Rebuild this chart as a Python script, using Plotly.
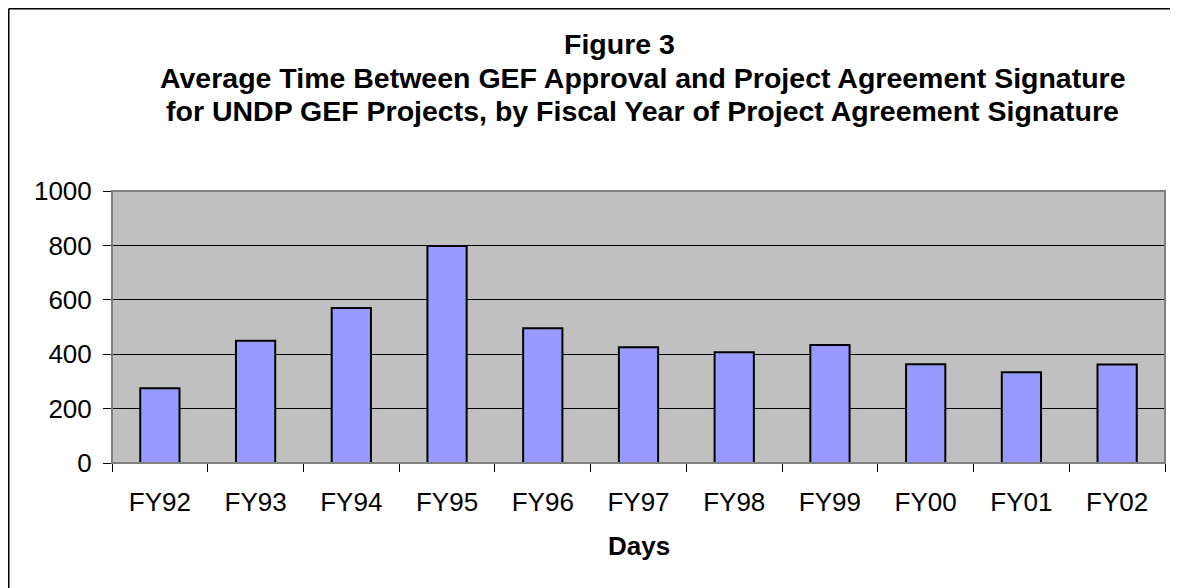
import plotly.graph_objects as go

categories = ["FY92", "FY93", "FY94", "FY95", "FY96", "FY97", "FY98", "FY99", "FY00", "FY01", "FY02"]
days = [275, 449, 570, 798, 495, 426, 407, 434, 363, 334, 362]
y_ticks = [0, 200, 400, 600, 800, 1000]
title_lines = [
    "Figure 3",
    "Average Time Between GEF Approval and Project Agreement Signature",
    "for UNDP GEF Projects, by Fiscal Year of Project Agreement Signature",
]
x_title = "Days"

W, H = 1178, 588
L, R, T, B = 104, 21, 183, 133
PW, PH = W - L - R, H - T - B

def px(x):
    return (x - L) / PW

def py(y):
    return (H - B - y) / PH

FONT = "Liberation Sans, Arial, sans-serif"

fig = go.Figure(go.Bar(
    x=categories, y=days,
    marker=dict(color="#9999FF", line=dict(color="#000000", width=2)),
))

fig.update_layout(
    width=W, height=H,
    margin=dict(l=L, r=R, t=T, b=B, pad=0),
    paper_bgcolor="white",
    plot_bgcolor="#C0C0C0",
    showlegend=False,
    bargap=0.59,
    font=dict(family=FONT, size=26, color="black"),
)
fig.update_xaxes(
    type="category", tickson="boundaries", ticks="outside", ticklen=8,
    tickcolor="black", tickwidth=1, showline=True, linecolor="black", linewidth=1,
    showgrid=False, tickfont=dict(size=26), ticklabelstandoff=16,
)
fig.update_yaxes(
    range=[0, 1000], tickvals=y_ticks, ticks="outside", ticklen=8,
    tickcolor="black", tickwidth=1, showline=True, linecolor="black", linewidth=1,
    showgrid=True, gridcolor="black", gridwidth=1, zeroline=False,
    tickfont=dict(size=26), ticklabelstandoff=6,
)

# plot area border (gray)
fig.add_shape(type="rect", xref="paper", yref="paper", x0=0, x1=1, y0=0, y1=1,
              line=dict(color="#808080", width=2), layer="above")
# outer chart border: only the left and top edges are inside the picture
fig.add_shape(type="line", xref="paper", yref="paper",
              x0=px(0.75), x1=px(0.75), y0=py(H), y1=py(0.75),
              line=dict(color="black", width=1.5))
fig.add_shape(type="line", xref="paper", yref="paper",
              x0=px(0.75), x1=px(W), y0=py(0.75), y1=py(0.75),
              line=dict(color="black", width=1.5))

centers = [(611, 36), (635, 70), (634, 103)]
for text, (cx, cy) in zip(title_lines, centers):
    fig.add_annotation(text="<b>%s</b>" % text, xref="paper", yref="paper",
                       x=px(cx), y=py(cy), xanchor="center", yanchor="middle",
                       showarrow=False, font=dict(size=28.5, family=FONT))

fig.add_annotation(text="<b>%s</b>" % x_title, xref="paper", yref="paper",
                   x=px(630.5), y=py(538), xanchor="center", yanchor="middle",
                   showarrow=False, font=dict(size=26, family=FONT))

fig.write_html("out.html",
               post_script="document.documentElement.style.overflow='hidden';document.body.style.overflow='hidden';")
